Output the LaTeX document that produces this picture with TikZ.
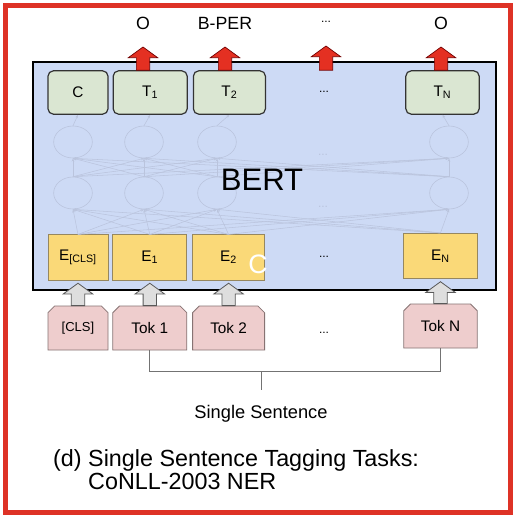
\documentclass[tikz,border=0pt]{standalone}
\usepackage{fontspec}
\setmainfont{Liberation Sans}
\usetikzlibrary{positioning, calc, shapes.geometric, shapes.misc, arrows.meta}

\definecolor{framered}{RGB}{222,50,38}
\definecolor{bertblue}{RGB}{205,218,245}
\definecolor{outgreen}{RGB}{218,230,210}
\definecolor{embyellow}{RGB}{250,217,120}
\definecolor{embline}{RGB}{150,135,95}
\definecolor{tokpink}{RGB}{238,205,205}
\definecolor{tokline}{RGB}{135,115,115}
\definecolor{netgray}{RGB}{186,196,221}
\definecolor{arrred}{RGB}{228,48,34}
\definecolor{arrgray}{RGB}{222,222,222}

\begin{document}
\begin{tikzpicture}[
        x=0.75pt, y=-0.75pt,
        every node/.style={align=center, font=\fontsize{11.5}{13}\selectfont},
        outbox/.style={draw=black!80, fill=outgreen, rounded corners=4pt, line width=0.9pt, minimum height=32.5pt, inner sep=0pt},
        embbox/.style={draw=embline, fill=embyellow, line width=0.6pt, minimum height=34pt, inner sep=0pt},
        tokbox/.style={chamfered rectangle, chamfered rectangle corners={north west, north east}, chamfered rectangle xsep=2.5pt, chamfered rectangle ysep=2.5pt, draw=tokline, fill=tokpink, line width=0.6pt, minimum height=33pt, inner sep=0pt},
        bertbox/.style={draw=black, fill=bertblue, line width=1.8pt, minimum width=347pt, minimum height=171pt},
        netnode/.style={ellipse, draw=netgray, line width=0.45pt, minimum width=29pt, minimum height=24pt},
        netline/.style={draw=netgray, line width=0.4pt, -{Stealth[length=2.5pt, width=2pt]}},
        blockarrow/.style={to path={let \p1=(\tikztostart), \p2=($(\tikztotarget)+(0pt,#1)$) in
            (\x2-5pt,\y1) -- (\x2-5pt,\y2-8pt) -- (\x2-11pt,\y2-8pt) -- (\x2,\y2)
            -- (\x2+11pt,\y2-8pt) -- (\x2+5pt,\y2-8pt) -- (\x2+5pt,\y1) -- cycle}},
        redarrow/.style={blockarrow=#1, fill=arrred, draw=red!45!black, line width=0.5pt},
        grayarrow/.style={blockarrow=#1, fill=arrgray, draw=black!65, line width=0.6pt},
        bracket/.style={draw=black!55, line width=0.7pt},
        toplabel/.style={font=\fontsize{13.3}{15}\selectfont},
        dotlabel/.style={font=\fontsize{9}{10}\selectfont}
    ]

    % 1. Background and frame
    \useasboundingbox (0,0) rectangle (516,518);
    \fill[white] (0,0) rectangle (516,518);
    \draw[framered, line width=3.75pt] (5.5,5.5) rectangle (510.5,512);

    % 2. BERT box with the faint inner layers
    \node[bertbox] (bert) at (264.5,176) {};
    \foreach \n/\x in {1/73, 2/144, 3/217, 4/449} {
        \node[netnode] (nu\n) at (\x,142) {};
        \node[netnode] (nl\n) at (\x,193) {};
    }
    \node[dotlabel, text=netgray] (ndotsu) at (323,155) {...};
    \node[dotlabel, text=netgray] (ndotsl) at (323,207) {...};

    % 3. Output row
    \node[outbox, minimum width=45pt] (tcls) at (78,92.5) {C};
    \node[outbox, minimum width=55.5pt] (t1) [right=3pt of tcls] {T\textsubscript{1}};
    \node[outbox, minimum width=54pt] (t2) [right=3.75pt of t1] {T\textsubscript{2}};
    \node[dotlabel] (tdots) at (324,92) {...};
    \node[outbox, minimum width=55pt] (tn) at (442.5,92.5) {T\textsubscript{N}};

    % 4. Embedding row
    \node[embbox, minimum width=45pt] (ecls) at (78,257.5) {E\textsubscript{[CLS]}};
    \node[embbox, minimum width=55.5pt] (e1) [right=3pt of ecls] {E\textsubscript{1}};
    \node[embbox, minimum width=54pt] (e2) [right=3.75pt of e1] {E\textsubscript{2}};
    \node[dotlabel] (edots) at (324,257) {...};
    \node[embbox, minimum width=55pt] (en) at (440.5,256) {E\textsubscript{N}};

    % Faint connections inside BERT
    \foreach \a in {ecls, e1, e2, en}
        \foreach \j in {1,...,4}
            \draw[netline] (\a.north) -- (nl\j.south);
    \foreach \i in {1,...,4}
        \foreach \j in {1,...,4}
            \draw[netline] (nl\i.north) -- (nu\j.south);
    \foreach \i/\b in {1/tcls, 2/t1, 3/t2, 4/tn}
        \draw[netline] (nu\i.north) -- (\b.south);

    \node[font=\fontsize{23.3}{25}\selectfont] (bertlabel) at (262,180) {BERT};
    \node[text=white, font=\fontsize{20}{20}\selectfont] (wmark) at (258,264) {C};

    % 5. Input tokens
    \node[tokbox, minimum width=45pt, font=\fontsize{9.75}{11}\selectfont] (tokc) at (78,328) {[CLS]};
    \node[tokbox, minimum width=55.5pt] (tok1) [right=3pt of tokc] {Tok 1};
    \node[tokbox, minimum width=54pt] (tok2) [right=3.75pt of tok1] {Tok 2};
    \node[dotlabel] (tokdots) at (324,333) {...};
    \node[tokbox, minimum width=55pt] (tokn) at (440.5,326) {Tok N};

    % Gray input arrows
    \draw[grayarrow=-2pt] (tokc.north) to (ecls.south);
    \draw[grayarrow=-2pt] (tok1.north) to (e1.south);
    \draw[grayarrow=-2pt] (tok2.north) to (e2.south);
    \draw[grayarrow=-2pt] (tokn.north) to (en.south);

    % 6. Output tags and red arrows
    \node[toplabel] (lbo1) at (143,23) {O};
    \node[toplabel] (lbper) at (225,23) {B-PER};
    \node[dotlabel] (lbdots) at (326,22) {...};
    \node[toplabel] (lbon) at (441,23) {O};
    \coordinate (tdotsbase) at (tdots |- t1.north);

    \draw[redarrow=-18pt] (t1.north) to (lbo1.center);
    \draw[redarrow=-18pt] (t2.north) to (lbper.center);
    \draw[redarrow=-18pt] (tdotsbase) to (lbdots.center);
    \draw[redarrow=-18pt] (tn.north) to (lbon.center);

    % 7. Sentence bracket
    \node[font=\fontsize{13.7}{15}\selectfont] (sent) at (261,414) {Single Sentence};
    \coordinate (brk) at (261,371);
    \draw[bracket] (tok1.south) -- ++(0,21) -| (tokn.south);
    \draw[bracket] (brk) -- ([yshift=8pt]sent.north);

    % Caption
    \node[anchor=west, align=left, font=\fontsize{17.5}{16.2}\selectfont] (caption) at (48.5,472)
        {(d) Single Sentence Tagging Tasks:\\\phantom{(d)}\ CoNLL-2003 NER};

\end{tikzpicture}
\end{document}
